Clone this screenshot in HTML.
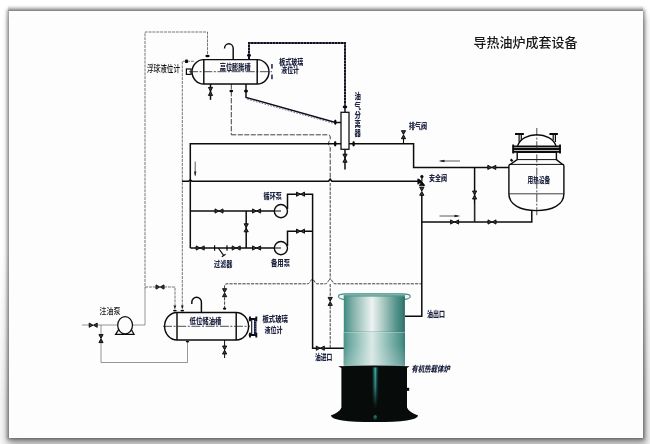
<!DOCTYPE html>
<html lang="zh-CN">
<head>
<meta charset="utf-8">
<title>导热油炉成套设备</title>
<style>
html,body{margin:0;padding:0;background:#fff;}
body{width:650px;height:444px;overflow:hidden;position:relative;font-family:"Liberation Sans","Noto Sans CJK SC",sans-serif;}
#frame{position:absolute;left:9px;top:11.2px;width:634px;height:427px;background:#fdfdfd;
 box-shadow:0 0 3.6px 2.2px rgba(0,0,0,.5), 1px 6px 7px 1.5px rgba(0,0,0,.22);}
#botw{position:absolute;left:0;top:250px;width:650px;height:194px;overflow:hidden;-webkit-mask-image:linear-gradient(to bottom,rgba(0,0,0,0) 0,rgba(0,0,0,1) 150px);mask-image:linear-gradient(to bottom,rgba(0,0,0,0) 0,rgba(0,0,0,1) 150px);}
#botb{position:absolute;left:10px;top:-50px;width:632px;height:236px;box-shadow:0 4px 9px 7px rgba(0,0,0,.15);}
#topb{position:absolute;left:8px;top:5px;width:635px;height:6px;background:linear-gradient(to bottom,rgba(0,0,0,0),rgba(0,0,0,.2));}
svg{position:absolute;left:0;top:0;filter:blur(.35px);}
.t{font-family:"Liberation Sans","Noto Sans CJK SC",sans-serif;font-weight:900;font-size:7.8px;fill:#1e2340;}
.g{font-family:"Liberation Sans","Noto Sans CJK SC",sans-serif;font-weight:500;font-size:8px;fill:#222;}
.title{font-family:"Liberation Sans","Noto Sans CJK SC",sans-serif;font-size:13px;font-weight:500;fill:#161616;}
</style>
</head>
<body>
<div id="botw"><div id="botb"></div></div>
<div id="topb"></div>
<div id="frame"></div>
<svg width="650" height="444" viewBox="0 0 650 444">
<defs>
 <g id="vh"><path d="M-4,-2.1 L-.2,0 L-4,2.1 Z M4,-2.1 L.2,0 L4,2.1 Z" fill="#3c3c3c" stroke="#0a0a0a" stroke-width=".95" stroke-linejoin="round"/></g>
 <g id="vv"><path d="M-2.1,-4 L0,-.2 L2.1,-4 Z M-2.1,4 L0,.2 L2.1,4 Z" fill="#3c3c3c" stroke="#0a0a0a" stroke-width=".95" stroke-linejoin="round"/></g>
 <linearGradient id="gBody" x1="0" x2="1" y1="0" y2="0">
  <stop offset="0" stop-color="#3f867d"/>
  <stop offset=".06" stop-color="#5a9a91"/>
  <stop offset=".16" stop-color="#86b3ac"/>
  <stop offset=".32" stop-color="#bdd5d0"/>
  <stop offset=".46" stop-color="#edf3f2"/>
  <stop offset=".6" stop-color="#bbd3ce"/>
  <stop offset=".74" stop-color="#84b0a9"/>
  <stop offset=".86" stop-color="#53938a"/>
  <stop offset=".95" stop-color="#3b807a"/>
  <stop offset="1" stop-color="#2f6660"/>
 </linearGradient>
 <linearGradient id="gBody2" x1="0" x2="1" y1="0" y2="0">
  <stop offset="0" stop-color="#4a9088"/>
  <stop offset=".08" stop-color="#6aa8a0"/>
  <stop offset=".25" stop-color="#9cc6c0"/>
  <stop offset=".46" stop-color="#dbe9e6"/>
  <stop offset=".62" stop-color="#a9cdc7"/>
  <stop offset=".82" stop-color="#6fa9a1"/>
  <stop offset=".95" stop-color="#4b9088"/>
  <stop offset="1" stop-color="#3a7a73"/>
 </linearGradient>
 <linearGradient id="gBlk" x1="0" x2="0" y1="0" y2="1">
  <stop offset="0" stop-color="#070b0a" stop-opacity="0"/>
  <stop offset=".5" stop-color="#070b0a" stop-opacity=".3"/>
  <stop offset="1" stop-color="#070b0a" stop-opacity="1"/>
 </linearGradient>
 <linearGradient id="gFade" x1="0" x2="0" y1="0" y2="1">
  <stop offset="0" stop-color="#dfe8e8" stop-opacity="0"/>
  <stop offset="1" stop-color="#dfe8e8" stop-opacity=".45"/>
 </linearGradient>
 <radialGradient id="gHi2" cx=".5" cy=".3" r=".7" fx=".5" fy=".2">
  <stop offset="0" stop-color="#3fb3a8"/>
  <stop offset=".5" stop-color="#1f7d76" stop-opacity=".8"/>
  <stop offset="1" stop-color="#0a1a18" stop-opacity="0"/>
 </radialGradient>
 <linearGradient id="gHi" x1="0" x2="1" y1="0" y2="0">
  <stop offset="0" stop-color="#0a1a18" stop-opacity="0"/>
  <stop offset=".5" stop-color="#3fc4ba"/>
  <stop offset="1" stop-color="#0a1a18" stop-opacity="0"/>
 </linearGradient>
</defs>

<!-- title -->
<text class="title" x="473.5" y="47.3" textLength="104" lengthAdjust="spacingAndGlyphs">导热油炉成套设备</text>

<!-- thin gray dashed lines -->
<g fill="none" stroke="#5c5c5c" stroke-width=".85" stroke-dasharray="3 .9">
 <path d="M207.5,54 V32 H145 V290"/>
 <path d="M145,287 H156 M164,287 H175 V307"/>
 <path d="M187,61.3 H194 M186,61.3 H182.3 V307"/>
</g>
<g fill="none" stroke="#606060" stroke-width=".65">
 <path d="M145,290 V325 H133"/>
 <path d="M82,325 H89 M97,325 H117.5"/>
 <path d="M101,325 V334 M101,343 V362.5 H187.5 V341"/>
</g>

<!-- medium dashed lines -->
<g fill="none" stroke="#404040" stroke-width="1" stroke-dasharray="5.4 1.6">
 <path d="M231.3,84 V134.8"/>
</g>
<g fill="none" stroke="#404040" stroke-width="1" stroke-dasharray="3.2 1.1">
 <path d="M231.3,134.8 H328 Q330.2,134.8 330.2,137 V139.5 Q326.8,143.6 330.2,147.4 V179.5" stroke-dasharray="5 1.5"/>
 <path d="M330.2,183 V279.5 M330.2,284 V297 M330.2,306 V348"/>
 <path d="M224.6,309 V297 M224.6,288.5 V286 Q224.6,283.8 227,283.8 H307.6 C310,283.8 310.6,279.3 312.4,279.3 C314.2,279.3 314.8,283.8 317.2,283.8 H325.4 C327.8,283.8 328.4,279.3 330.2,279.3 C332,279.3 332.6,283.8 335,283.8 H421.8"/>
</g>

<!-- main pipes -->
<g fill="none" stroke="#0c0c0c" stroke-width="1.5" stroke-linejoin="miter">
 <path d="M190.3,248 V143.7 H341"/>
 <path d="M349,143.7 H413.6 V167.4 H509"/>
 <path d="M182,181.3 H188.6 Q190.3,178.6 192,181.3 H328.6 L330.2,179 L331.8,181.3 H418.5"/>
 <path d="M190.3,211 H281"/>
 <path d="M190.3,248 H281"/>
 <path d="M246.2,211 V248"/>
 <path d="M287.5,209 V194.2 H312.6 V348.2 H344"/>
 <path d="M287.5,246 V231.2 H312.6"/>
 <path d="M421.8,195 V316.2 H405"/>
 <path d="M421.8,222 H531.8 V210"/>
 <path d="M474.6,167.4 V222"/>
 <path d="M345,149.3 V169.6"/>
 <path d="M210.5,84 V99.8"/>
 <path d="M224.6,340 V358" stroke-width="1"/>
</g>

<!-- thick stitched pipes -->
<g fill="none" stroke="#4a5688" stroke-width="1.4">
 <path d="M249,59.5 V43 H345 V104"/>
</g>
<g fill="none" stroke="#0e1016" stroke-width="1.9" stroke-dasharray="2.4 .7">
 <path d="M249,59.5 V43 H345 V104"/>
</g>
<g fill="none" stroke="#0e1016" stroke-width="1.5">
 <path d="M345,104 V112"/>
 <path d="M246,84 V97.4 L335.5,122.4 H341"/>
</g>
<g fill="none" stroke="#4a5688" stroke-width=".8" stroke-dasharray="1.6 1.4">
 <path d="M247.2,99.2 L333.6,123.4"/>
</g>

<!-- pumps -->
<g fill="#fdfdfd" stroke="#0c0c0c" stroke-width="1.4">
 <circle cx="280.9" cy="211.1" r="6.6"/>
 <circle cx="280.9" cy="248.1" r="6.6"/>
</g>
<g fill="none" stroke="#0c0c0c" stroke-width="1.2">
 <path d="M274,211 H281 M274,248 H281"/>
</g>

<!-- valves -->
<use href="#vh" x="219" y="211"/>
<use href="#vh" x="256.6" y="211"/>
<use href="#vh" x="300.5" y="194.2"/>
<use href="#vh" x="300.5" y="231.2"/>
<use href="#vh" x="200.2" y="248"/>
<use href="#vh" x="236.2" y="248"/>
<use href="#vh" x="256.6" y="248"/>
<use href="#vv" x="246.2" y="227.8"/>
<use href="#vv" x="210.5" y="91.4"/>
<use href="#vv" x="345" y="158.2"/>
<use href="#vv" x="403.5" y="134.7"/>
<use href="#vh" x="491.8" y="167.4"/>
<use href="#vv" x="474.6" y="195"/>
<use href="#vv" x="421.8" y="191.3"/>
<use href="#vh" x="454.6" y="222"/>
<use href="#vh" x="492" y="222"/>
<use href="#vh" x="320.3" y="348.2"/>
<use href="#vv" x="330.2" y="301.4"/>
<use href="#vv" x="224.6" y="292.7"/>
<use href="#vv" x="224.6" y="350"/>
<use href="#vh" x="160" y="287"/>
<use href="#vh" x="93.2" y="325.2"/>
<use href="#vv" x="101" y="338.6"/>

<!-- exhaust valve stem -->
<path d="M403.5,138 V143.7" stroke="#0c0c0c" stroke-width="1.1" fill="none"/>

<!-- safety valve -->
<g fill="#0a0a0a" stroke="#0a0a0a" stroke-width=".7" stroke-linejoin="round">
 <circle cx="421.9" cy="176.6" r="1.3"/>
 <path d="M421.9,177 V181.5" fill="none" stroke-width="1.2"/>
 <path d="M417.8,178.8 L421.8,181.6 L417.8,184.2 Z"/>
 <path d="M419.2,185.8 L421.8,181.6 L424.6,185.8 Z"/>
 <path d="M418.4,179.4 L424.2,185.4" fill="none" stroke-width="1.6"/>
</g>

<!-- filter -->
<g fill="none" stroke="#0c0c0c" stroke-width="1.2">
 <path d="M214.6,245.3 V250.7 M227,245.3 V250.7"/>
 <path d="M218.3,248 L223.8,255.6 M221.8,256.8 L225.6,254.2"/>
</g>

<!-- arrows -->
<g fill="none" stroke="#333" stroke-width=".8">
 <path d="M195.2,161.6 V175.5"/>
 <path d="M440.5,161 H460"/>
 <path d="M439.5,216 H458"/>
 <path d="M474.6,222 V204"/>
</g>
<g fill="#222">
 <path d="M195.2,176.6 L194,171.5 L196.4,171.5 Z"/>
 <path d="M438.5,161 L444.5,159.7 L444.5,162.3 Z"/>
 <path d="M460.5,216 L454.5,214.7 L454.5,217.3 Z"/>
 <path d="M174.9,309.5 L173.5,305.5 L176.3,305.5 Z"/>
 <path d="M182.3,309.5 L180.9,305.5 L183.7,305.5 Z"/>
</g>

<!-- high level expansion tank -->
<g fill="none" stroke="#0c0c0c" stroke-width="1.45">
 <path d="M203.8,59.6 H257.2 A11.8,12.2 0 0 1 257.2,84 H203.8 A11.8,12.2 0 0 1 203.8,59.6 Z" fill="#fdfdfd"/>
 <path d="M203.8,59.6 V84 M257.2,59.6 V84"/>
 <path d="M233.2,59.6 V48.6 A4.35,4.8 0 0 0 224.5,48.6"/>
 <rect x="186.4" y="69" width="4.6" height="5.4" fill="#fdfdfd" stroke-width="1.2"/>
</g>
<path d="M189,71.7 H272" stroke="#222" stroke-width=".8" stroke-dasharray="9 1.6 2 1.6" fill="none"/>
<!-- nozzles high tank -->
<g fill="#0a0a0a">
 <ellipse cx="207.5" cy="56" rx="2.2" ry="1.2"/>
 <rect x="185.1" y="59.6" width="2.8" height="3.5" rx=".6"/>
 <ellipse cx="249" cy="55.3" rx="2" ry="1.6"/>
 <ellipse cx="231.3" cy="91" rx="1.9" ry="1.2"/>
 <ellipse cx="246" cy="91" rx="2" ry="1.5"/>
 <ellipse cx="345" cy="107" rx="2.3" ry="1.4"/>
 <ellipse cx="335.3" cy="122.2" rx="1.3" ry="2.8"/>
 <ellipse cx="335.2" cy="143.7" rx="1.3" ry="2.8"/>
 <ellipse cx="353.6" cy="143.7" rx="1.3" ry="2.8"/>
 <ellipse cx="174.9" cy="310.6" rx="1.9" ry=".9"/>
 <ellipse cx="182.3" cy="310.6" rx="1.9" ry=".9"/>
 <ellipse cx="224.6" cy="308.6" rx="1.7" ry="1.2"/>
 <ellipse cx="187.5" cy="341.6" rx="1.7" ry=".9"/>
</g>
<!-- level gauge (high tank) -->
<g fill="#485068">
 <rect x="271" y="64" width="1.9" height="4.6"/>
 <rect x="271" y="74.6" width="1.9" height="4.6"/>
</g>

<!-- separator -->
<rect x="341" y="112.3" width="8" height="37" fill="#fdfdfd" stroke="#0c0c0c" stroke-width="1.25"/>

<!-- heat user vessel -->
<g fill="none" stroke="#0c0c0c" stroke-width="1.4">
 <path d="M508.9,193.8 V166 Q508.9,164.4 510.5,164.3 L517.2,159.6 V152.2 H556.4 V159.6 L562.4,164.3 Q563.9,164.4 563.9,166 V193.8 C563.9,205 552,210.6 536.4,210.6 C520.8,210.6 508.9,205 508.9,193.8 Z" fill="#fdfdfd"/>
 <path d="M508.9,193.8 H563.9" stroke-width=".8"/>
 <path d="M509.5,164.4 H563.4 M517.2,159.6 H556.4" stroke-width="1"/>
 <path d="M517.6,146 C522,131 551.6,131 556,146" />
 <path d="M512.4,146.3 H560.8 M512.4,151.8 H560.8" stroke-width="1.7"/>
 <path d="M512.4,149 H560.8" stroke-width="2.6"/>
 <path d="M513.2,144.4 V153.6 M560,144.4 V153.6" stroke-width="1.8"/>
 <path d="M519.1,142 V134.6 M521.3,140 V134.6 M515,134.1 H523.8 M553.2,140 V134.6 M555.4,142 V134.6 M549.6,134.1 H557.8" stroke-width="1.2"/>
 <path d="M515,134.1 H523.8 M549.6,134.1 H557.8" stroke-width="2"/>
 <path d="M510.6,159.4 L512.6,161.2" stroke-width="2.2"/>
</g>
<path d="M536.8,128 V216" stroke="#222" stroke-width=".8" stroke-dasharray="8 1.6 2 1.6" fill="none"/>

<!-- oil injection pump -->
<g stroke="#0c0c0c" stroke-width="1.25" fill="#fdfdfd">
 <path d="M115.6,334.3 L118.8,329.4 H131.2 L134,334.3 Z"/>
 <ellipse cx="125.1" cy="325.2" rx="7.4" ry="8.7"/>
</g>

<!-- low level tank -->
<g fill="none" stroke="#0c0c0c" stroke-width="1.45">
 <path d="M177,312.4 H236.2 A12.4,13.8 0 0 1 236.2,340 H177 A12.4,13.8 0 0 1 177,312.4 Z" fill="#fdfdfd"/>
 <path d="M177,312.4 V340 M236.2,312.4 V340"/>
 <path d="M201.4,312.4 V302.2 A4.8,4.9 0 0 0 191.8,302.2 V304"/>
</g>
<path d="M163,326.3 H250" stroke="#222" stroke-width=".8" stroke-dasharray="9 1.6 2 1.6" fill="none"/>
<!-- level gauge (low tank) -->
<g fill="none" stroke="#0c0f1a">
 <path d="M248.8,319 H257 M248.8,335 H257" stroke-width="1.9"/>
 <path d="M250,316.6 V321.2 M256.3,316.6 V321.2 M250,332.8 V337.4 M256.3,332.8 V337.4" stroke-width="1.9"/>
 <path d="M251.7,319 V335" stroke-width="1.1"/>
 <path d="M255.2,319 V335" stroke-width="2.5" stroke="#141a33"/>
 <path d="M255.2,321 V333" stroke-width="1" stroke="#7a8ac0" stroke-dasharray="1 1.4"/>
</g>

<!-- furnace -->
<g>
 <path d="M338.4,296.2 Q338.6,293.9 346,293.9 H402.6 Q410,293.9 410.3,296.2 Q410.2,298.6 404.8,299.4 L343.8,299.4 Q338.4,298.6 338.4,296.2 Z" fill="#eef5f3" stroke="#3f8d83" stroke-width="1.1"/>
 <path d="M343.8,295.4 H404.9 V365.6 H343.8 Z" fill="url(#gBody)"/>
 <path d="M343.8,294.6 H404.9 V296.8 H343.8 Z" fill="#4e958b" opacity=".75"/>
 <path d="M343.8,332.4 H404.9 V365.6 H343.8 Z" fill="url(#gBody2)"/>
 <path d="M343.8,331.4 H404.9" stroke="#3c7f76" stroke-width=".7" opacity=".4"/>
 <path d="M343.8,332.5 H404.9" stroke="#c4e2dc" stroke-width=".8" opacity=".6"/>
 <path d="M343.8,345 H404.9 V365.6 H343.8 Z" fill="url(#gFade)" opacity=".6"/>
 <!-- black base -->
 <path d="M338.2,366.2 Q374,364.8 409.6,366.2 L407,368 V407.4 Q408.6,411.8 418.2,415.4 Q417,422 374.4,422 Q332,422 330.8,415.4 Q340,411.8 341.4,407.4 V368 Z" fill="#070b0a"/>
 <rect x="371.2" y="367.4" width="8" height="40" fill="url(#gHi)"/><rect x="371" y="367.4" width="8.4" height="40.4" fill="url(#gBlk)"/>
 <ellipse cx="375.2" cy="418" rx="2.2" ry="3" fill="url(#gHi2)" opacity=".7"/>
 <rect x="406.8" y="387.8" width="2.4" height="3" fill="#070b0a"/>
</g>

<!-- labels -->
<text class="g" x="147" y="71.8" textLength="33" lengthAdjust="spacingAndGlyphs" style="font-size:9.6px;fill:#111;font-weight:500">浮球液位计</text>
<text class="t" x="219.8" y="69.6" textLength="30.8" lengthAdjust="spacingAndGlyphs" style="font-size:7.8px">高位膨胀槽</text>
<text class="t" x="279.3" y="65.3" textLength="24" lengthAdjust="spacingAndGlyphs">板式玻璃</text>
<text class="t" x="281.3" y="72.9" textLength="17.6" lengthAdjust="spacingAndGlyphs">液位计</text>
<text class="t" x="354.6" y="99.2" textLength="6.4" lengthAdjust="spacingAndGlyphs">油</text>
<text class="t" x="354.6" y="108.5" textLength="6.4" lengthAdjust="spacingAndGlyphs">气</text>
<text class="t" x="354.6" y="117.8" textLength="6.4" lengthAdjust="spacingAndGlyphs">分</text>
<text class="t" x="354.6" y="127.1" textLength="6.4" lengthAdjust="spacingAndGlyphs">离</text>
<text class="t" x="354.6" y="136.4" textLength="6.4" lengthAdjust="spacingAndGlyphs">器</text>
<text class="t" x="409" y="128.6" textLength="18" lengthAdjust="spacingAndGlyphs">排气阀</text>
<text class="t" x="429" y="181" textLength="18" lengthAdjust="spacingAndGlyphs">安全阀</text>
<text class="t" x="527.6" y="182.6" textLength="22.6" lengthAdjust="spacingAndGlyphs">用热设备</text>
<text class="t" x="263.6" y="199" textLength="18.4" lengthAdjust="spacingAndGlyphs">循环泵</text>
<text class="t" x="214" y="267.2" textLength="18.4" lengthAdjust="spacingAndGlyphs">过滤器</text>
<text class="t" x="271" y="266" textLength="19" lengthAdjust="spacingAndGlyphs">备用泵</text>
<text class="g" x="99.4" y="314.2" textLength="21" lengthAdjust="spacingAndGlyphs">注油泵</text>
<text class="t" x="189.6" y="323.8" textLength="31.8" lengthAdjust="spacingAndGlyphs">低位储油槽</text>
<text class="t" x="262.4" y="322.4" textLength="25.6" lengthAdjust="spacingAndGlyphs">板式玻璃</text>
<text class="t" x="264.6" y="332.6" textLength="18" lengthAdjust="spacingAndGlyphs">液位计</text>
<text class="t" x="315" y="360" textLength="17.4" lengthAdjust="spacingAndGlyphs">油进口</text>
<text class="t" x="427" y="317" textLength="18" lengthAdjust="spacingAndGlyphs">油出口</text>
<text class="t" x="412" y="371.8" textLength="38.6" lengthAdjust="spacingAndGlyphs" transform="translate(431 368) skewX(-12) translate(-431 -368)" style="font-size:8.6px">有机热载体炉</text>
</svg>
</body>
</html>
